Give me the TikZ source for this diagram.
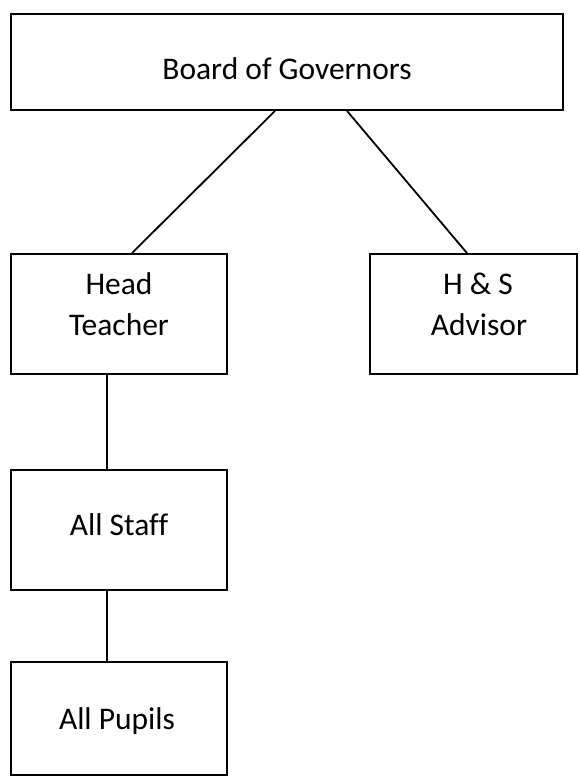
\documentclass[tikz,border=0pt]{standalone}
\usepackage{fontspec}
\setmainfont{Carlito}[Ligatures=NoCommon]
\tikzset{every picture/.style={line width=1.8pt}}
\tikzset{orgbox/.style={draw, rectangle, inner sep=0pt},
         orgtext/.style={anchor=base, inner sep=0pt, font=\fontsize{31.5}{38}\selectfont}}

\begin{document}
\begin{tikzpicture}[x=1pt,y=1pt,yscale=-1,xscale=1]
\useasboundingbox (0,0) rectangle (579,776);

%Shape: Rectangle [id:board]
\node [orgbox, minimum width=552, minimum height=96] (board) at (287,62) {};
%Shape: Rectangle [id:head]
\node [orgbox, minimum width=216, minimum height=120] (head) at (119,314) {};
%Shape: Rectangle [id:hands]
\node [orgbox, minimum width=207, minimum height=120] (hands) at (473.5,314) {};
%Shape: Rectangle [id:staff]
\node [orgbox, minimum width=216, minimum height=120] (staff) at (119,530) {};
%Shape: Rectangle [id:pupils]
\node [orgbox, minimum width=216, minimum height=113] (pupils) at (119,718.5) {};

%Straight Lines
\draw ([xshift=-12]board.south) -- ([xshift=13]head.north);
\draw ([xshift=60]board.south) -- ([xshift=-6.5]hands.north);
\draw ([xshift=-12]head.south) -- ([xshift=-12]staff.north);
\draw ([xshift=-12]staff.south) -- ([xshift=-12]pupils.north);

% Text Node
\node [orgtext] (boardtxt) at (287,79) {Board of Governors};
% Text Node
\node [orgtext] (headtxt) at (119,294) {Head};
\node [orgtext] (teachtxt) at (119,335.7) {Teacher};
% Text Node
\node [orgtext] (handstxt) at (478,294) {H \& S};
\node [orgtext] (advtxt) at (479,335.7) {Advisor};
% Text Node
\node [orgtext] (stafftxt) at (119,535) {All Staff};
% Text Node
\node [orgtext] (pupiltxt) at (117,729) {All Pupils};

\end{tikzpicture}
\end{document}
